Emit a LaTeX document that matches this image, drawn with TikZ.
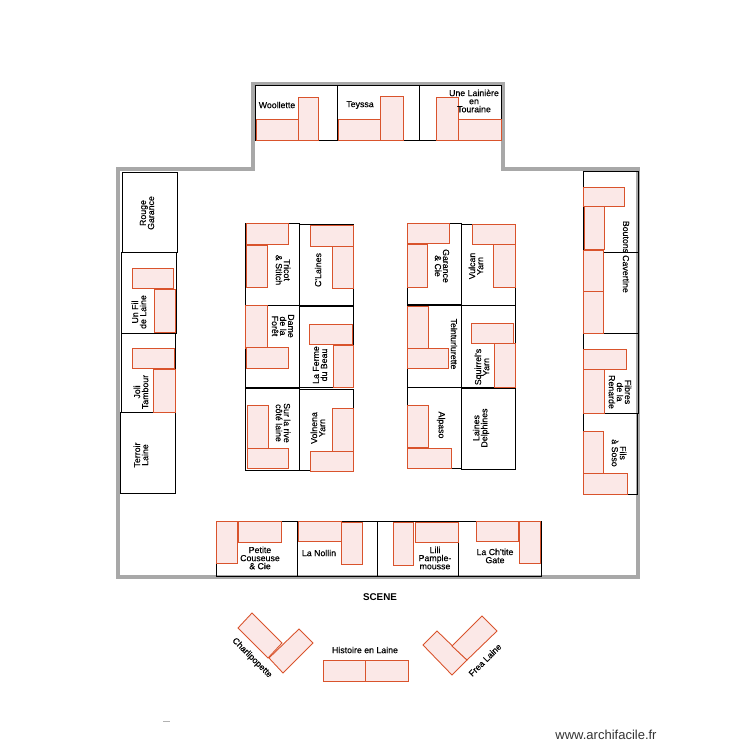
\documentclass[tikz,border=0pt]{standalone}
\usepackage{fontspec}
\setmainfont{Liberation Sans}
\newfontfamily\lblfont[FakeBold=0.4]{Liberation Sans}
\definecolor{wallgrey}{HTML}{A8A8A8}
\definecolor{tableline}{HTML}{D9532C}
\definecolor{tablefill}{HTML}{FBE8E7}
\begin{document}
\begin{tikzpicture}[x=0.02cm, y=-0.02cm, inner sep=0mm,
  wall/.style={draw=wallgrey, line width=2.4pt, line join=miter},
  stall/.style={draw=black, line width=0.5pt},
  tablebox/.style={draw=tableline, fill=tablefill, line width=0.5pt},
  lbl/.style={align=center, font=\lblfont\fontsize{5}{4.6}\selectfont},
  lblup/.style={lbl, rotate=90},
  lbldown/.style={lbl, rotate=-90}]
  \useasboundingbox (0,0) rectangle (750,750);

  \draw[wall] (118,577) -- (118,169) -- (253,169) -- (253,84) -- (503,84) -- (503,169) -- (638,169) -- (638,577) -- cycle;

  \draw[stall] (255,85) rectangle (337,140);
  \draw[stall] (337,85) rectangle (419,140);
  \draw[stall] (419,85) rectangle (501,140);
  \draw[stall] (122,172) rectangle (177,252);
  \draw[stall] (121,252) rectangle (176,333);
  \draw[stall] (121,333) rectangle (175,412);
  \draw[stall] (120,412) rectangle (175,493);
  \draw[stall] (245,223) rectangle (299,305);
  \draw[stall] (299,224) rectangle (353,305);
  \draw[stall] (245,305) rectangle (299,387);
  \draw[stall] (299,306) rectangle (353,387);
  \draw[stall] (245,388) rectangle (299,470);
  \draw[stall] (299,389) rectangle (353,470);
  \draw[stall] (407,223) rectangle (461,304);
  \draw[stall] (461,224) rectangle (515,305);
  \draw[stall] (407,305) rectangle (461,387);
  \draw[stall] (461,305) rectangle (515,387);
  \draw[stall] (407,387) rectangle (461,468);
  \draw[stall] (461,388) rectangle (515,469);
  \draw[stall] (583,171) rectangle (638,252);
  \draw[stall] (583,252) rectangle (638,333);
  \draw[stall] (583,333) rectangle (638,413);
  \draw[stall] (583,413) rectangle (637,494);
  \draw[stall] (216,521) rectangle (297,576);
  \draw[stall] (297,521) rectangle (377,576);
  \draw[stall] (377,521) rectangle (458,576);
  \draw[stall] (458,521) rectangle (541,576);

  \draw[tablebox] (256,119) rectangle (298,140);
  \draw[tablebox] (298,97) rectangle (318,140);
  \draw[tablebox] (338,119) rectangle (381,140);
  \draw[tablebox] (380,96) rectangle (403,140);
  \draw[tablebox] (436,97) rectangle (458,140);
  \draw[tablebox] (458,119) rectangle (501,140);
  \draw[tablebox] (132,268) rectangle (173,288);
  \draw[tablebox] (154,289) rectangle (175,332);
  \draw[tablebox] (132,348) rectangle (174,368);
  \draw[tablebox] (153,369) rectangle (175,412);
  \draw[tablebox] (246,223) rectangle (288,244);
  \draw[tablebox] (246,245) rectangle (267,287);
  \draw[tablebox] (310,225) rectangle (353,246);
  \draw[tablebox] (332,246) rectangle (353,288);
  \draw[tablebox] (245,305) rectangle (267,348);
  \draw[tablebox] (246,347) rectangle (288,368);
  \draw[tablebox] (309,324) rectangle (352,344);
  \draw[tablebox] (333,345) rectangle (353,387);
  \draw[tablebox] (247,405) rectangle (268,448);
  \draw[tablebox] (247,448) rectangle (288,468);
  \draw[tablebox] (332,408) rectangle (353,451);
  \draw[tablebox] (310,451) rectangle (353,471);
  \draw[tablebox] (407,223) rectangle (449,243);
  \draw[tablebox] (407,244) rectangle (427,287);
  \draw[tablebox] (472,224) rectangle (515,244);
  \draw[tablebox] (493,244) rectangle (515,287);
  \draw[tablebox] (407,306) rectangle (428,348);
  \draw[tablebox] (407,348) rectangle (448,368);
  \draw[tablebox] (471,323) rectangle (513,343);
  \draw[tablebox] (494,343) rectangle (515,387);
  \draw[tablebox] (407,405) rectangle (428,447);
  \draw[tablebox] (407,448) rectangle (451,468);
  \draw[tablebox] (583,187) rectangle (624,206);
  \draw[tablebox] (584,206) rectangle (604,249);
  \draw[tablebox] (583,250) rectangle (603,291);
  \draw[tablebox] (583,291) rectangle (603,333);
  \draw[tablebox] (583,349) rectangle (626,369);
  \draw[tablebox] (583,369) rectangle (604,413);
  \draw[tablebox] (583,431) rectangle (603,473);
  \draw[tablebox] (583,473) rectangle (627,494);
  \draw[tablebox] (216,521) rectangle (237,563);
  \draw[tablebox] (238,521) rectangle (281,542);
  \draw[tablebox] (298,521) rectangle (341,541);
  \draw[tablebox] (341,522) rectangle (362,564);
  \draw[tablebox] (393,522) rectangle (413,565);
  \draw[tablebox] (415,522) rectangle (458,542);
  \draw[tablebox] (476,521) rectangle (518,541);
  \draw[tablebox] (519,521) rectangle (540,563);
  \draw[tablebox] (323,660) rectangle (365,681);
  \draw[tablebox] (365,660) rectangle (408,681);
  \draw[tablebox] (252,613) -- (282,643) -- (268,658) -- (238,628) -- cycle;
  \draw[tablebox] (299,629) -- (313,643) -- (283,673) -- (269,658) -- cycle;
  \draw[tablebox] (437,631) -- (467,660) -- (452,675) -- (423,645) -- cycle;
  \draw[tablebox] (482,616) -- (497,631) -- (467,660) -- (452,646) -- cycle;

  \node[lbl] (woollette) at (277,105) {Woollette};
  \node[lbl] (teyssa) at (360,105) {Teyssa};
  \node[lbl] (lainiere) at (474,101) {Une Lainière\\en\\Touraine};
  \node[lblup] (rouge) at (147,213) {Rouge\\Garance};
  \node[lblup] (unfil) at (139,312) {Un Fil\\de Laine};
  \node[lblup] (joli) at (141,392) {Joli\\Tambour};
  \node[lblup] (terroir) at (141,455) {Terroir\\Laine};
  \node[lbldown] (tricot) at (283,270) {Tricot\\\& Stitch};
  \node[lblup] (claines) at (318,270) {C'Laines};
  \node[lbldown] (dame) at (283,326) {Dame\\de la\\Forêt};
  \node[lblup] (ferme) at (320,365) {La Ferme\\du Beau};
  \node[lbldown] (rive) at (283,423) {Sur la rive\\côté laine};
  \node[lblup] (volnena) at (318,428) {Volnena\\Yarn};
  \node[lbldown] (garance) at (442,266) {Garance\\\& Cie};
  \node[lblup] (vulcan) at (476,266) {Vulcan\\Yarn};
  \node[lbldown] (teinture) at (454,344) {Teinturlurette};
  \node[lblup] (squirrel) at (482,367) {Squirrel's\\Yarn};
  \node[lbldown] (alpaso) at (441,425) {Alpaso};
  \node[lblup] (delphines) at (481,428) {Laines\\Delphines};
  \node[lbldown] (boutons) at (626,237) {Boutons};
  \node[lbldown] (cavertine) at (626,274) {Cavertine};
  \node[lbldown] (fibres) at (620,392) {Fibres\\de la\\Renarde};
  \node[lbldown] (fils) at (619,453) {Fils\\à Soso};
  \node[lbl] (petite) at (260,558) {Petite\\Couseuse\\\& Cie};
  \node[lbl] (nollin) at (319,553) {La Nollin};
  \node[lbl] (lili) at (435,558) {Lili\\Pample-\\mousse};
  \node[lbl] (chtite) at (495,556) {La Ch'tite\\Gate};
  \node[lbl] (histoire) at (365,650) {Histoire en Laine};
  \node[lbl, rotate=-45] (charli) at (252,658) {Charlipopette};
  \node[lbl, rotate=45] (frea) at (485,660) {Frea Laine};
  \node[font=\fontsize{5.6}{6}\selectfont\bfseries] (scene) at (380,597) {SCENE};
  \node[font=\fontsize{7.4}{8}\selectfont, text=black!80] (site) at (606,735) {www.archifacile.fr};
  \draw[black!30, line width=0.5pt] (163,721) -- (170,721);
\end{tikzpicture}
\end{document}
